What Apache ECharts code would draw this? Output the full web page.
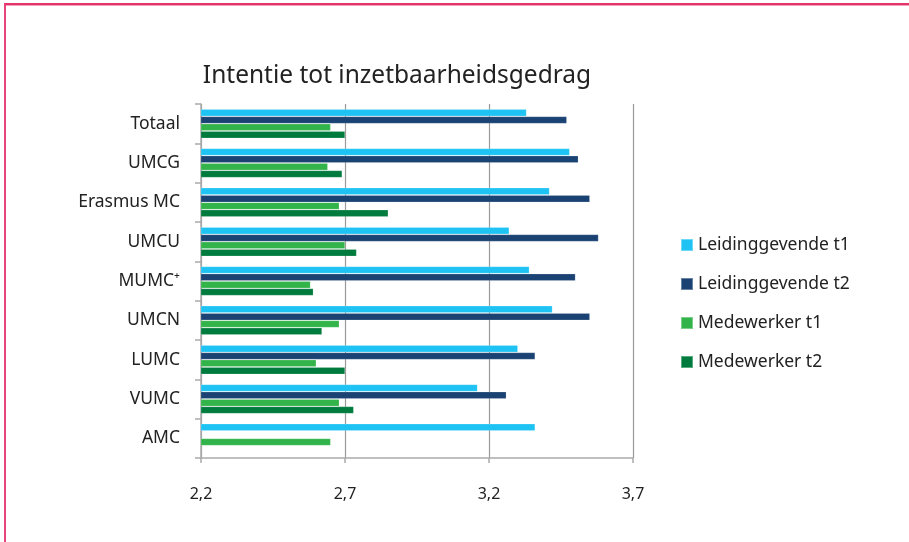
<!DOCTYPE html>
<html>
<head>
<meta charset="utf-8">
<script src="https://cdn.jsdelivr.net/npm/echarts@6/dist/echarts.min.js"></script>
<style>
  html, body { margin: 0; padding: 0; background: #fff; }
  #frame {
    position: absolute; left: 4px; top: 3px; width: 905px; height: 539px;
    border-top: 2px solid #e2336b; border-left: 2px solid #e8467a;
    box-shadow: inset 0 1px 0 #f7a0bd;
  }
  #chart { position: absolute; left: 0; top: 0; width: 909px; height: 542px; }
</style>
</head>
<body>
<div id="frame"></div>
<div id="chart"></div>
<script>
// categorieën (van boven naar beneden)
var categories = ['Totaal', 'UMCG', 'Erasmus MC', 'UMCU', 'MUMC⁺', 'UMCN', 'LUMC', 'VUMC', 'AMC'];

var seriesNames = ['Leidinggevende t1', 'Leidinggevende t2', 'Medewerker t1', 'Medewerker t2'];

// gemiddelde scores
var leidingT1 = [3.33, 3.48, 3.41, 3.27, 3.34, 3.42, 3.30, 3.16, 3.36];
var leidingT2 = [3.47, 3.51, 3.55, 3.58, 3.50, 3.55, 3.36, 3.26, null];
var medewT1 = [2.65, 2.64, 2.68, 2.70, 2.58, 2.68, 2.60, 2.68, 2.65];
var medewT2 = [2.70, 2.69, 2.85, 2.74, 2.59, 2.62, 2.70, 2.73, null];

var xTicks = [2.2, 2.7, 3.2, 3.7];

var colors = ['#1fc3f3', '#1a4272', '#33b44a', '#007b3e'];

var chart = echarts.init(document.getElementById('chart'));

function bar(name, data, color) {
    return {
        name: name,
        type: 'bar',
        data: data,
        barWidth: 7,
        barGap: '5%',
        itemStyle: { color: color, borderColor: 'rgba(255,255,255,0.35)', borderWidth: 0.5 }
    };
}

chart.setOption({
    animation: false,
    backgroundColor: 'transparent',
    textStyle: { fontFamily: 'Noto Sans' },
    title: {
        text: 'Intentie tot inzetbaarheidsgedrag',
        left: 392,
        textAlign: 'center',
        top: 59,
        textStyle: { fontSize: 24.5, fontWeight: 'normal', color: '#222', fontFamily: 'Noto Sans' }
    },
    legend: {
        orient: 'vertical',
        left: 675,
        top: 230,
        icon: 'rect',
        itemWidth: 12,
        itemHeight: 12,
        itemGap: 19,
        data: seriesNames,
        textStyle: { fontSize: 17.5, color: '#222', lineHeight: 20, fontFamily: 'Noto Sans' }
    },
    grid: { left: 201, right: 276, top: 104, bottom: 84, containLabel: false },
    xAxis: {
        type: 'value',
        min: xTicks[0],
        max: xTicks[xTicks.length - 1],
        interval: 0.5,
        axisLine: { show: true, lineStyle: { color: '#aaa', width: 1.5 } },
        axisTick: { show: true, length: 5, lineStyle: { color: '#aaa', width: 1.5 } },
        axisLabel: {
            margin: 28,
            fontSize: 16,
            color: '#222',
            formatter: function (v) { return v.toFixed(1).replace('.', ','); }
        },
        splitLine: { show: true, lineStyle: { color: '#9a9a9a', width: 1.2 } }
    },
    yAxis: {
        type: 'category',
        data: categories,
        inverse: true,
        axisLine: { show: true, lineStyle: { color: '#aaa', width: 1.5 } },
        axisTick: { show: true, length: 6, alignWithLabel: false, lineStyle: { color: '#aaa', width: 1.5 } },
        axisLabel: { margin: 21, fontSize: 17.5, color: '#222', padding: [3, 0, 0, 0] }
    },
    series: [
        bar(seriesNames[0], leidingT1, colors[0]),
        bar(seriesNames[1], leidingT2, colors[1]),
        bar(seriesNames[2], medewT1, colors[2]),
        bar(seriesNames[3], medewT2, colors[3])
    ]
});
</script>
</body>
</html>
